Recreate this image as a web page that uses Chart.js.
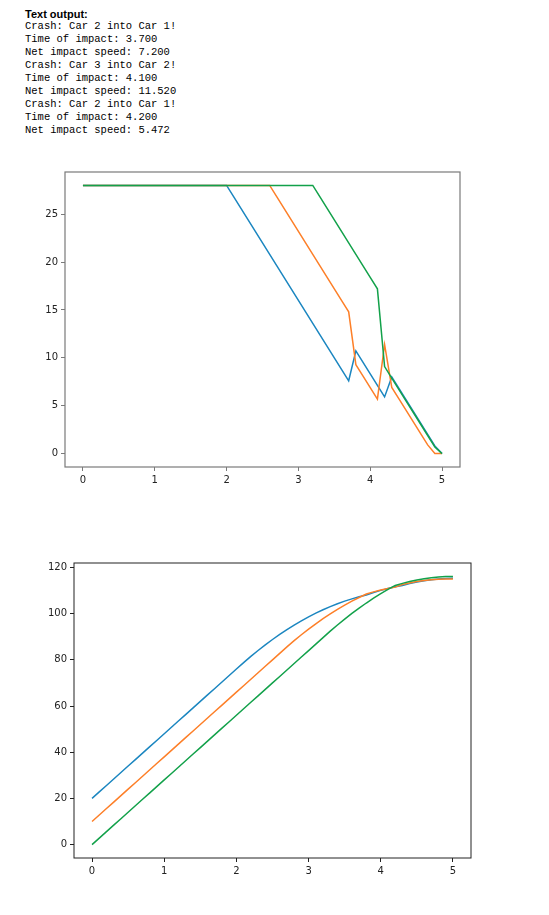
<!DOCTYPE html>
<html>
<head>
<meta charset="utf-8">
<script src="https://cdn.jsdelivr.net/npm/chart.js@4/dist/chart.umd.min.js"></script>
<style>
    html, body { margin: 0; padding: 0; background: #fff; width: 549px; height: 915px; overflow: hidden; }
    #log { position: absolute; left: 25px; top: 8px; color: #000; }
    #log .head { font: bold 11px 'Liberation Sans', Arial, sans-serif; line-height: 12px; }
    #log pre { margin: 0; font: 10.5px 'Liberation Mono', 'Courier New', monospace; line-height: 13px; }
    canvas { position: absolute; left: 0; }
    #velChart { top: 150px; }
    #posChart { top: 545px; }
</style>
</head>
<body>
<div id="log">
    <div class="head">Text output:</div>
    <pre id="logLines"></pre>
</div>
<canvas id="velChart" width="480" height="340"></canvas>
<canvas id="posChart" width="490" height="340"></canvas>
<script>
// printed crash log
const logLines = [
    'Crash: Car 2 into Car 1!',
    'Time of impact: 3.700',
    'Net impact speed: 7.200',
    'Crash: Car 3 into Car 2!',
    'Time of impact: 4.100',
    'Net impact speed: 11.520',
    'Crash: Car 2 into Car 1!',
    'Time of impact: 4.200',
    'Net impact speed: 5.472',
];

const times = [
    0, 0.1, 0.2, 0.3, 0.4, 0.5, 0.6, 0.7, 0.8, 0.9,
    1, 1.1, 1.2, 1.3, 1.4, 1.5, 1.6, 1.7, 1.8, 1.9,
    2, 2.1, 2.2, 2.3, 2.4, 2.5, 2.6, 2.7, 2.8, 2.9,
    3, 3.1, 3.2, 3.3, 3.4, 3.5, 3.6, 3.7, 3.8, 3.9,
    4, 4.1, 4.2, 4.3, 4.4, 4.5, 4.6, 4.7, 4.8, 4.9, 5,
];

// speeds (top plot)
const vel1 = [
    28, 28, 28, 28, 28, 28, 28, 28, 28, 28,
    28, 28, 28, 28, 28, 28, 28, 28, 28, 28,
    28, 26.8, 25.6, 24.4, 23.2, 22.0, 20.8, 19.6, 18.4, 17.2,
    16.0, 14.8, 13.6, 12.4, 11.2, 10.0, 8.8, 7.6, 10.72, 9.52,
    8.32, 7.12, 5.92, 8.003, 6.803, 5.603, 4.403, 3.203, 2.003, 0.803, 0,
];
const vel2 = [
    28, 28, 28, 28, 28, 28, 28, 28, 28, 28,
    28, 28, 28, 28, 28, 28, 28, 28, 28, 28,
    28, 28, 28, 28, 28, 28, 28, 26.8, 25.6, 24.4,
    23.2, 22.0, 20.8, 19.6, 18.4, 17.2, 16.0, 14.8, 9.28, 8.08,
    6.88, 5.68, 11.392, 6.909, 5.709, 4.509, 3.309, 2.109, 0.909, 0, 0,
];
const vel3 = [
    28, 28, 28, 28, 28, 28, 28, 28, 28, 28,
    28, 28, 28, 28, 28, 28, 28, 28, 28, 28,
    28, 28, 28, 28, 28, 28, 28, 28, 28, 28,
    28, 28, 28, 26.8, 25.6, 24.4, 23.2, 22.0, 20.8, 19.6,
    18.4, 17.2, 9.088, 7.888, 6.688, 5.488, 4.288, 3.088, 1.888, 0.688, 0,
];

// positions (bottom plot)
const pos1 = [
    20, 22.8, 25.6, 28.4, 31.2, 34, 36.8, 39.6, 42.4, 45.2,
    48, 50.8, 53.6, 56.4, 59.2, 62, 64.8, 67.6, 70.4, 73.2,
    76, 78.8, 81.48, 84.04, 86.48, 88.8, 91.0, 93.08, 95.04, 96.88,
    98.6, 100.2, 101.68, 103.04, 104.28, 105.4, 106.4, 107.28, 108.04, 109.112,
    110.064, 110.896, 111.608, 112.2, 113.0, 113.681, 114.241, 114.681, 115.002, 115.202, 115.282,
];
const pos2 = [
    10, 12.8, 15.6, 18.4, 21.2, 24, 26.8, 29.6, 32.4, 35.2,
    38, 40.8, 43.6, 46.4, 49.2, 52, 54.8, 57.6, 60.4, 63.2,
    66, 68.8, 71.6, 74.4, 77.2, 80, 82.8, 85.6, 88.28, 90.84,
    93.28, 95.6, 97.8, 99.88, 101.84, 103.68, 105.4, 107.0, 108.48, 109.408,
    110.216, 110.904, 111.472, 112.611, 113.302, 113.873, 114.324, 114.655, 114.866, 114.956, 114.956,
];
const pos3 = [
    0, 2.8, 5.6, 8.4, 11.2, 14, 16.8, 19.6, 22.4, 25.2,
    28, 30.8, 33.6, 36.4, 39.2, 42, 44.8, 47.6, 50.4, 53.2,
    56, 58.8, 61.6, 64.4, 67.2, 70, 72.8, 75.6, 78.4, 81.2,
    84, 86.8, 89.6, 92.4, 95.08, 97.64, 100.08, 102.4, 104.6, 106.68,
    108.64, 110.48, 112.2, 113.109, 113.898, 114.566, 115.115, 115.544, 115.853, 116.042, 116.11,
];

const timeTicks = [0, 1, 2, 3, 4, 5];
const velTicks = [0, 5, 10, 15, 20, 25];
const posTicks = [0, 20, 40, 60, 80, 100, 120];

const carColors = ['#1b86c0', '#fd7f28', '#12a14a'];

document.getElementById('logLines').textContent = logLines.join('\n');

const frame = {
    id: 'frame',
    afterDraw(chart, args, opts) {
        const { ctx, chartArea: a } = chart;
        ctx.save();
        ctx.strokeStyle = opts.color;
        ctx.lineWidth = opts.width;
        ctx.strokeRect(a.left, a.top, a.right - a.left, a.bottom - a.top);
        ctx.restore();
    },
};

function axis(ticks, min, max, size, horizontal, tickColor) {
    return {
        type: 'linear',
        min, max,
        afterBuildTicks: s => { s.ticks = ticks.map(v => ({ value: v })); },
        afterFit: s => { if (horizontal) s.height = size; else s.width = size; },
        border: { display: false },
        grid: { drawOnChartArea: false, drawTicks: true, tickLength: 4, tickColor, tickWidth: 1 },
        ticks: {
            color: '#222', padding: 3, maxRotation: 0, autoSkip: false,
            font: { family: 'DejaVu Sans', size: 10 },
            callback: v => String(v),
        },
    };
}

function buildPlot(id, series, cfg) {
    const ctx = document.getElementById(id).getContext('2d');
    return new Chart(ctx, {
        type: 'line',
        data: {
            // later cars drawn on top, like the original
            datasets: series.map((s, i) => ({
                data: times.map((t, k) => ({ x: t, y: s[k] })),
                borderColor: carColors[i], borderWidth: 1.5,
                pointRadius: 0, tension: 0, fill: false,
                order: series.length - i,
            })),
        },
        options: {
            responsive: false, animation: false,
            layout: { padding: cfg.padding },
            plugins: { legend: { display: false }, tooltip: { enabled: false }, frame: { color: cfg.frameColor, width: cfg.frameWidth } },
            scales: {
                x: axis(timeTicks, -0.25, 5.25, cfg.xHeight, true, cfg.frameColor),
                y: axis(cfg.yTicks, cfg.yMin, cfg.yMax, cfg.yWidth, false, cfg.frameColor),
            },
        },
        plugins: [frame],
    });
}

buildPlot('velChart', [vel1, vel2, vel3], {
    padding: { top: 22, right: 20, left: 0, bottom: 0 },
    xHeight: 23, yWidth: 65,
    yTicks: velTicks, yMin: -1.4, yMax: 29.4,
    frameColor: '#7a7a7a', frameWidth: 1.2,
});

buildPlot('posChart', [pos1, pos2, pos3], {
    padding: { top: 18, right: 19, left: 0, bottom: 0 },
    xHeight: 27, yWidth: 74,
    yTicks: posTicks, yMin: -5.81, yMax: 121.92,
    frameColor: '#222', frameWidth: 1,
});
</script>
</body>
</html>
